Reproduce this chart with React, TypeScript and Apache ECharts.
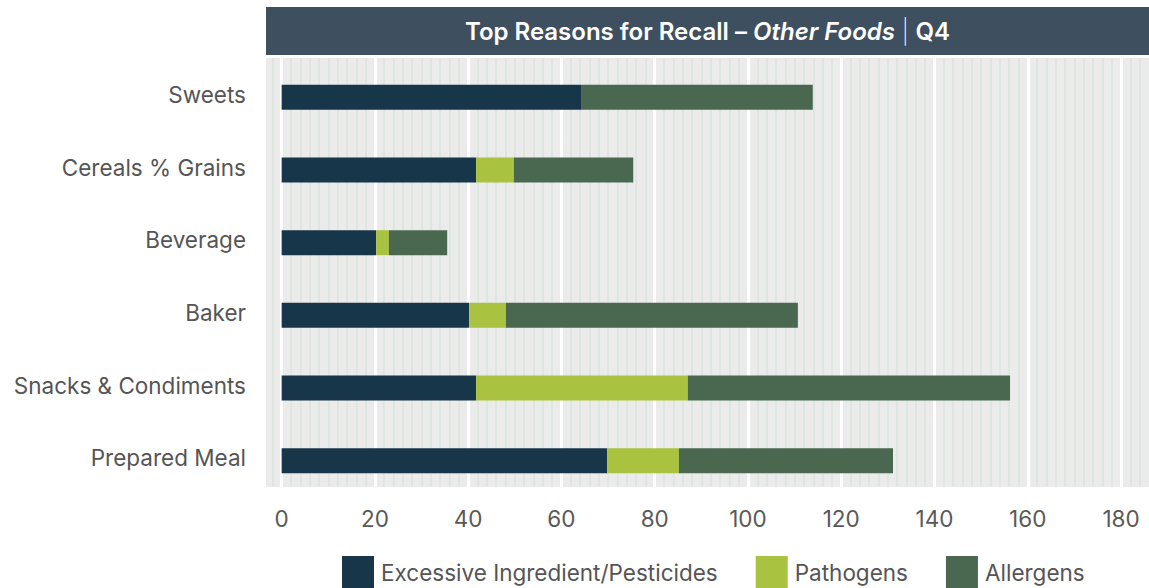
import React, { useEffect, useRef } from "react";
import * as echarts from "echarts";

const categories = ["Sweets", "Cereals % Grains", "Beverage", "Baker", "Snacks & Condiments", "Prepared Meal"];
const excessive = [64.2, 41.7, 20.3, 40.2, 41.7, 69.8];
const pathogens = [0, 8.1, 2.7, 7.9, 45.4, 15.4];
const allergens = [49.7, 25.6, 12.5, 62.6, 69.1, 45.9];
const seriesNames = ["Excessive Ingredient/Pesticides", "Pathogens", "Allergens"];
const seriesValues = [excessive, pathogens, allergens];
const colors = ["#17364a", "#a9c23f", "#4a6850"];
const xMin = -4;
const xMax = 186;
const FONT = "Inter";

export default function App() {
  const ref = useRef<HTMLDivElement>(null);
  useEffect(() => {
    if (!ref.current) return;
    const chart = echarts.init(ref.current, null, { renderer: "svg" });
    const option: any = {
      animation: false,
      textStyle: { fontFamily: FONT },
      grid: [
        { left: 263, right: 0, top: 58, height: 429, containLabel: false },
        { left: 263, right: 0, top: 61, height: 436, containLabel: false },
      ],
      xAxis: [
        {
          gridIndex: 0, type: "value", min: xMin, max: xMax, interval: 2, position: "top", z: 0,
          axisLine: { show: false }, axisTick: { show: false }, axisLabel: { show: false },
          splitLine: { show: true, showMinLine: false, showMaxLine: false, lineStyle: { color: "#dbe4dd", width: 1.5 } },
        },
        {
          gridIndex: 0, type: "value", min: xMin, max: xMax, splitNumber: 10, position: "bottom", z: 1,
          axisLine: { show: false }, axisTick: { show: false },
          axisLabel: {
            show: true, showMinLabel: false, showMaxLabel: false, fontSize: 22.5, color: "#595959", margin: 20,
            fontFamily: FONT,
            formatter: (v: number) => (v % 20 === 0 && v >= 0 && v <= 180 ? String(v) : ""),
          },
          splitLine: { show: true, showMinLine: false, showMaxLine: false, lineStyle: { color: "#ffffff", width: 3 } },
        },
        {
          gridIndex: 1, type: "value", min: xMin, max: xMax, show: false,
          splitLine: { show: false },
        },
      ],
      yAxis: [
        { gridIndex: 0, type: "value", min: 0, max: 1, show: false, splitLine: { show: false } },
        {
          gridIndex: 1, type: "category", data: categories, inverse: true,
          axisLine: { show: false }, axisTick: { show: false }, splitLine: { show: false },
          axisLabel: {
            fontSize: 22.5, color: "#555555", margin: 17, fontFamily: FONT,
            verticalAlign: "bottom", lineHeight: 6,
          },
        },
      ],
      legend: {
        data: seriesNames, left: 337, top: 551, itemWidth: 32, itemHeight: 32, itemGap: 38,
        icon: "rect",
        textStyle: { fontSize: 22.5, color: "#555555", fontFamily: FONT, padding: [0, 0, 0, 2] },
      },
      series: seriesNames.map((name, i) => ({
        name, type: "bar", stack: "total", xAxisIndex: 2, yAxisIndex: 1,
        barWidth: 25, data: seriesValues[i], itemStyle: { color: colors[i] },
      })),
      graphic: [
        { type: "rect", z: -10, silent: true, shape: { x: 266, y: 58, width: 883, height: 429 }, style: { fill: "#ebebeb" } },
        { type: "rect", silent: true, shape: { x: 266, y: 7, width: 883, height: 48 }, style: { fill: "#3e4f5f" } },
        {
          type: "text", x: 707.5, y: 31, silent: true,
          style: {
            text: "{b|Top Reasons for Recall – }{i|Other Foods}{s| | }{b|Q4}",
            align: "center", verticalAlign: "middle", fill: "#ffffff",
            rich: {
              b: { fontSize: 24, fontWeight: 600, fontFamily: FONT, fill: "#ffffff", color: "#ffffff" },
              i: { fontSize: 24, fontWeight: 600, fontStyle: "italic", fontFamily: FONT, fill: "#ffffff", color: "#ffffff" },
              s: { fontSize: 24, fontWeight: 200, fontFamily: FONT, fill: "#ffffff", color: "#ffffff" },
            },
          },
        },
      ],
    };
    chart.setOption(option);
    return () => chart.dispose();
  }, []);
  return <div ref={ref} style={{ position: "absolute", left: 0, top: 0, width: 1149, height: 588 }} />;
}
